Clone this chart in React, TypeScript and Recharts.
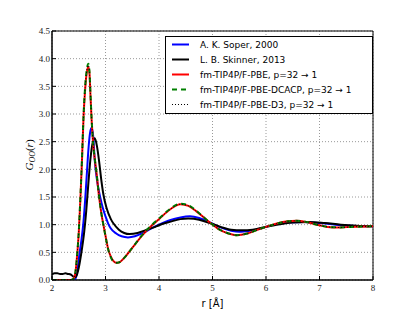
import { CartesianGrid, Label, Legend, Line, LineChart, ReferenceArea, XAxis, YAxis } from "recharts";

// r values and G_OO(r)
const soperX = [2.0, 2.4, 2.44, 2.48, 2.51, 2.55, 2.585, 2.62, 2.65, 2.68, 2.71, 2.74, 2.77, 2.8, 2.85, 2.9, 2.95, 3.0, 3.05, 3.1, 3.2, 3.3, 3.42, 3.55, 3.7, 3.85, 4.0, 4.2, 4.4, 4.58, 4.75, 4.95, 5.15, 5.35, 5.5, 5.7, 5.9, 6.0, 6.2, 6.4, 6.7, 7.0, 7.3, 7.6, 8.0];
const soperY = [0, 0, 0.03, 0.22, 0.45, 0.72, 1.02, 1.45, 1.9, 2.35, 2.65, 2.75, 2.6, 2.15, 1.75, 1.5, 1.3, 1.15, 1.02, 0.93, 0.84, 0.79, 0.77, 0.79, 0.85, 0.93, 1.0, 1.08, 1.13, 1.15, 1.12, 1.04, 0.95, 0.89, 0.87, 0.89, 0.93, 0.96, 1.01, 1.04, 1.05, 1.03, 1.0, 0.98, 0.97];

const skinnerX = [2.0, 2.05, 2.1, 2.15, 2.2, 2.25, 2.3, 2.35, 2.4, 2.43, 2.46, 2.5, 2.55, 2.6, 2.64, 2.68, 2.72, 2.76, 2.8, 2.84, 2.88, 2.92, 2.96, 3.02, 3.1, 3.15, 3.25, 3.35, 3.45, 3.6, 3.75, 3.9, 4.0, 4.2, 4.4, 4.55, 4.75, 4.95, 5.15, 5.35, 5.55, 5.75, 5.95, 6.2, 6.5, 6.8, 7.1, 7.4, 7.7, 8.0];
const skinnerY = [0.1, 0.12, 0.12, 0.11, 0.11, 0.12, 0.11, 0.1, 0.06, 0.05, 0.08, 0.22, 0.5, 0.85, 1.25, 1.75, 2.2, 2.48, 2.56, 2.42, 2.15, 1.82, 1.55, 1.3, 1.1, 1.02, 0.91, 0.85, 0.83, 0.85, 0.9, 0.95, 0.99, 1.05, 1.1, 1.11, 1.09, 1.03, 0.96, 0.91, 0.9, 0.91, 0.95, 1.0, 1.04, 1.05, 1.03, 1.0, 0.98, 0.97];

const simX = [2.0, 2.35, 2.4, 2.44, 2.47, 2.5, 2.53, 2.56, 2.59, 2.62, 2.65, 2.68, 2.7, 2.72, 2.74, 2.77, 2.8, 2.83, 2.88, 2.92, 2.96, 3.0, 3.05, 3.1, 3.15, 3.2, 3.26, 3.35, 3.5, 3.7, 3.85, 4.0, 4.2, 4.4, 4.55, 4.7, 4.85, 4.95, 5.1, 5.3, 5.45, 5.65, 5.85, 6.0, 6.2, 6.4, 6.57, 6.75, 6.95, 7.15, 7.38, 7.6, 8.0];
const pbeY = [0, 0, 0.02, 0.15, 0.45, 0.85, 1.45, 2.15, 2.95, 3.45, 3.75, 3.85, 3.74, 3.32, 2.9, 2.45, 2.18, 1.95, 1.5, 1.22, 1.0, 0.8, 0.56, 0.42, 0.34, 0.31, 0.32, 0.4, 0.58, 0.82, 0.97, 1.1, 1.27, 1.37, 1.34, 1.24, 1.12, 1.04, 0.93, 0.84, 0.81, 0.84, 0.91, 0.96, 1.02, 1.06, 1.07, 1.05, 1.0, 0.96, 0.95, 0.96, 0.97];
const dcacpY = [0, 0, 0.02, 0.16, 0.46, 0.87, 1.48, 2.18, 2.98, 3.5, 3.8, 3.91, 3.78, 3.35, 2.92, 2.46, 2.19, 1.96, 1.51, 1.22, 1.0, 0.79, 0.55, 0.41, 0.33, 0.31, 0.32, 0.4, 0.58, 0.83, 0.98, 1.11, 1.28, 1.38, 1.35, 1.25, 1.12, 1.04, 0.93, 0.84, 0.81, 0.84, 0.91, 0.96, 1.02, 1.06, 1.07, 1.05, 1.0, 0.96, 0.95, 0.96, 0.97];
const d3Y = [0, 0, 0.02, 0.15, 0.45, 0.86, 1.46, 2.16, 2.96, 3.48, 3.78, 3.88, 3.76, 3.33, 2.91, 2.45, 2.18, 1.95, 1.5, 1.22, 1.0, 0.8, 0.56, 0.42, 0.34, 0.31, 0.32, 0.4, 0.58, 0.82, 0.97, 1.1, 1.27, 1.37, 1.34, 1.24, 1.12, 1.04, 0.93, 0.84, 0.81, 0.84, 0.91, 0.96, 1.02, 1.06, 1.07, 1.05, 1.0, 0.96, 0.95, 0.96, 0.97];

const xTicks = [2, 3, 4, 5, 6, 7, 8];
const yTicks = [0, 0.5, 1, 1.5, 2, 2.5, 3, 3.5, 4, 4.5];

const zip = (xs: number[], ys: number[]) => xs.map((r, i) => ({ r, g: ys[i] }));

const series = [
  { name: "A. K. Soper, 2000", data: zip(soperX, soperY), color: "#0000ff", width: 2, dash: undefined },
  { name: "L. B. Skinner, 2013", data: zip(skinnerX, skinnerY), color: "#000000", width: 2, dash: undefined },
  { name: "fm-TIP4P/F-PBE, p=32 \u2192 1", data: zip(simX, pbeY), color: "#ff0000", width: 2, dash: undefined },
  { name: "fm-TIP4P/F-PBE-DCACP, p=32 \u2192 1", data: zip(simX, dcacpY), color: "#008000", width: 2, dash: "5 4" },
  { name: "fm-TIP4P/F-PBE-D3, p=32 \u2192 1", data: zip(simX, d3Y), color: "#000000", width: 1, dash: "1 2" },
];

const tickFont = { fontFamily: "Liberation Serif", fontSize: 9, fill: "#222" };

function LegendBox() {
  return (
    <div
      style={{
        width: 206,
        height: 76,
        border: "1px solid #000",
        background: "#fff",
        fontFamily: "DejaVu Sans",
        fontSize: 9,
        color: "#000",
        boxSizing: "content-box",
      }}
    >
      {series.map((s, i) => (
        <div key={s.name} style={{ display: "flex", alignItems: "center", height: 15, marginTop: i === 0 ? 0 : 0 }}>
          <svg width={34} height={15}>
            <line x1={6} x2={23} y1={7.5} y2={7.5} stroke={s.color} strokeWidth={s.width} strokeDasharray={s.dash} />
          </svg>
          <span>{s.name}</span>
        </div>
      ))}
    </div>
  );
}

export default function App() {
  return (
    <div style={{ position: "absolute", left: 0, top: 0, width: 415, height: 312, background: "#fff" }}>
      <LineChart width={415} height={312} margin={{ top: 31, right: 42, bottom: 0, left: 22 }}>
        <CartesianGrid stroke="#999" strokeDasharray="1 2" strokeWidth={1} />
        <XAxis
          type="number"
          dataKey="r"
          domain={[2, 8]}
          ticks={xTicks}
          allowDataOverflow
          height={32}
          tickSize={-4}
          tickMargin={9}
          tick={tickFont}
          stroke="#000"
        >
          <Label value="r [Å]" position="insideBottom" offset={5} style={{ fontFamily: "DejaVu Sans", fontSize: 10, fill: "#000" }} />
        </XAxis>
        <YAxis
          type="number"
          dataKey="g"
          domain={[0, 4.5]}
          ticks={yTicks}
          allowDataOverflow
          width={30}
          tickSize={-4}
          tickMargin={6}
          tick={tickFont}
          tickFormatter={(v: number) => v.toFixed(1)}
          stroke="#000"
        >
          <Label
            content={() => (
              <text transform="translate(33,155) rotate(-90)" textAnchor="middle" fontFamily="Liberation Serif" fontSize={11} fill="#000">
                <tspan fontStyle="italic">G</tspan>
                <tspan fontStyle="italic" fontSize={8} dy={2}>OO</tspan>
                <tspan dy={-2}>(</tspan>
                <tspan fontStyle="italic">r</tspan>
                <tspan>)</tspan>
              </text>
            )}
          />
        </YAxis>
        {series.map((s) => (
          <Line
            key={s.name}
            data={s.data}
            dataKey="g"
            name={s.name}
            type="monotone"
            dot={false}
            activeDot={false}
            stroke={s.color}
            strokeWidth={s.width}
            strokeDasharray={s.dash}
            isAnimationActive={false}
          />
        ))}
        <ReferenceArea x1={2} x2={8} y1={0} y2={4.5} fill="none" stroke="#000" strokeWidth={1} ifOverflow="visible" />
        <Legend
          layout="horizontal"
          verticalAlign="middle"
          align="center"
          content={() => <LegendBox />}
          wrapperStyle={{ position: "absolute", left: 165, top: 36, width: 208 }}
        />
      </LineChart>
    </div>
  );
}
